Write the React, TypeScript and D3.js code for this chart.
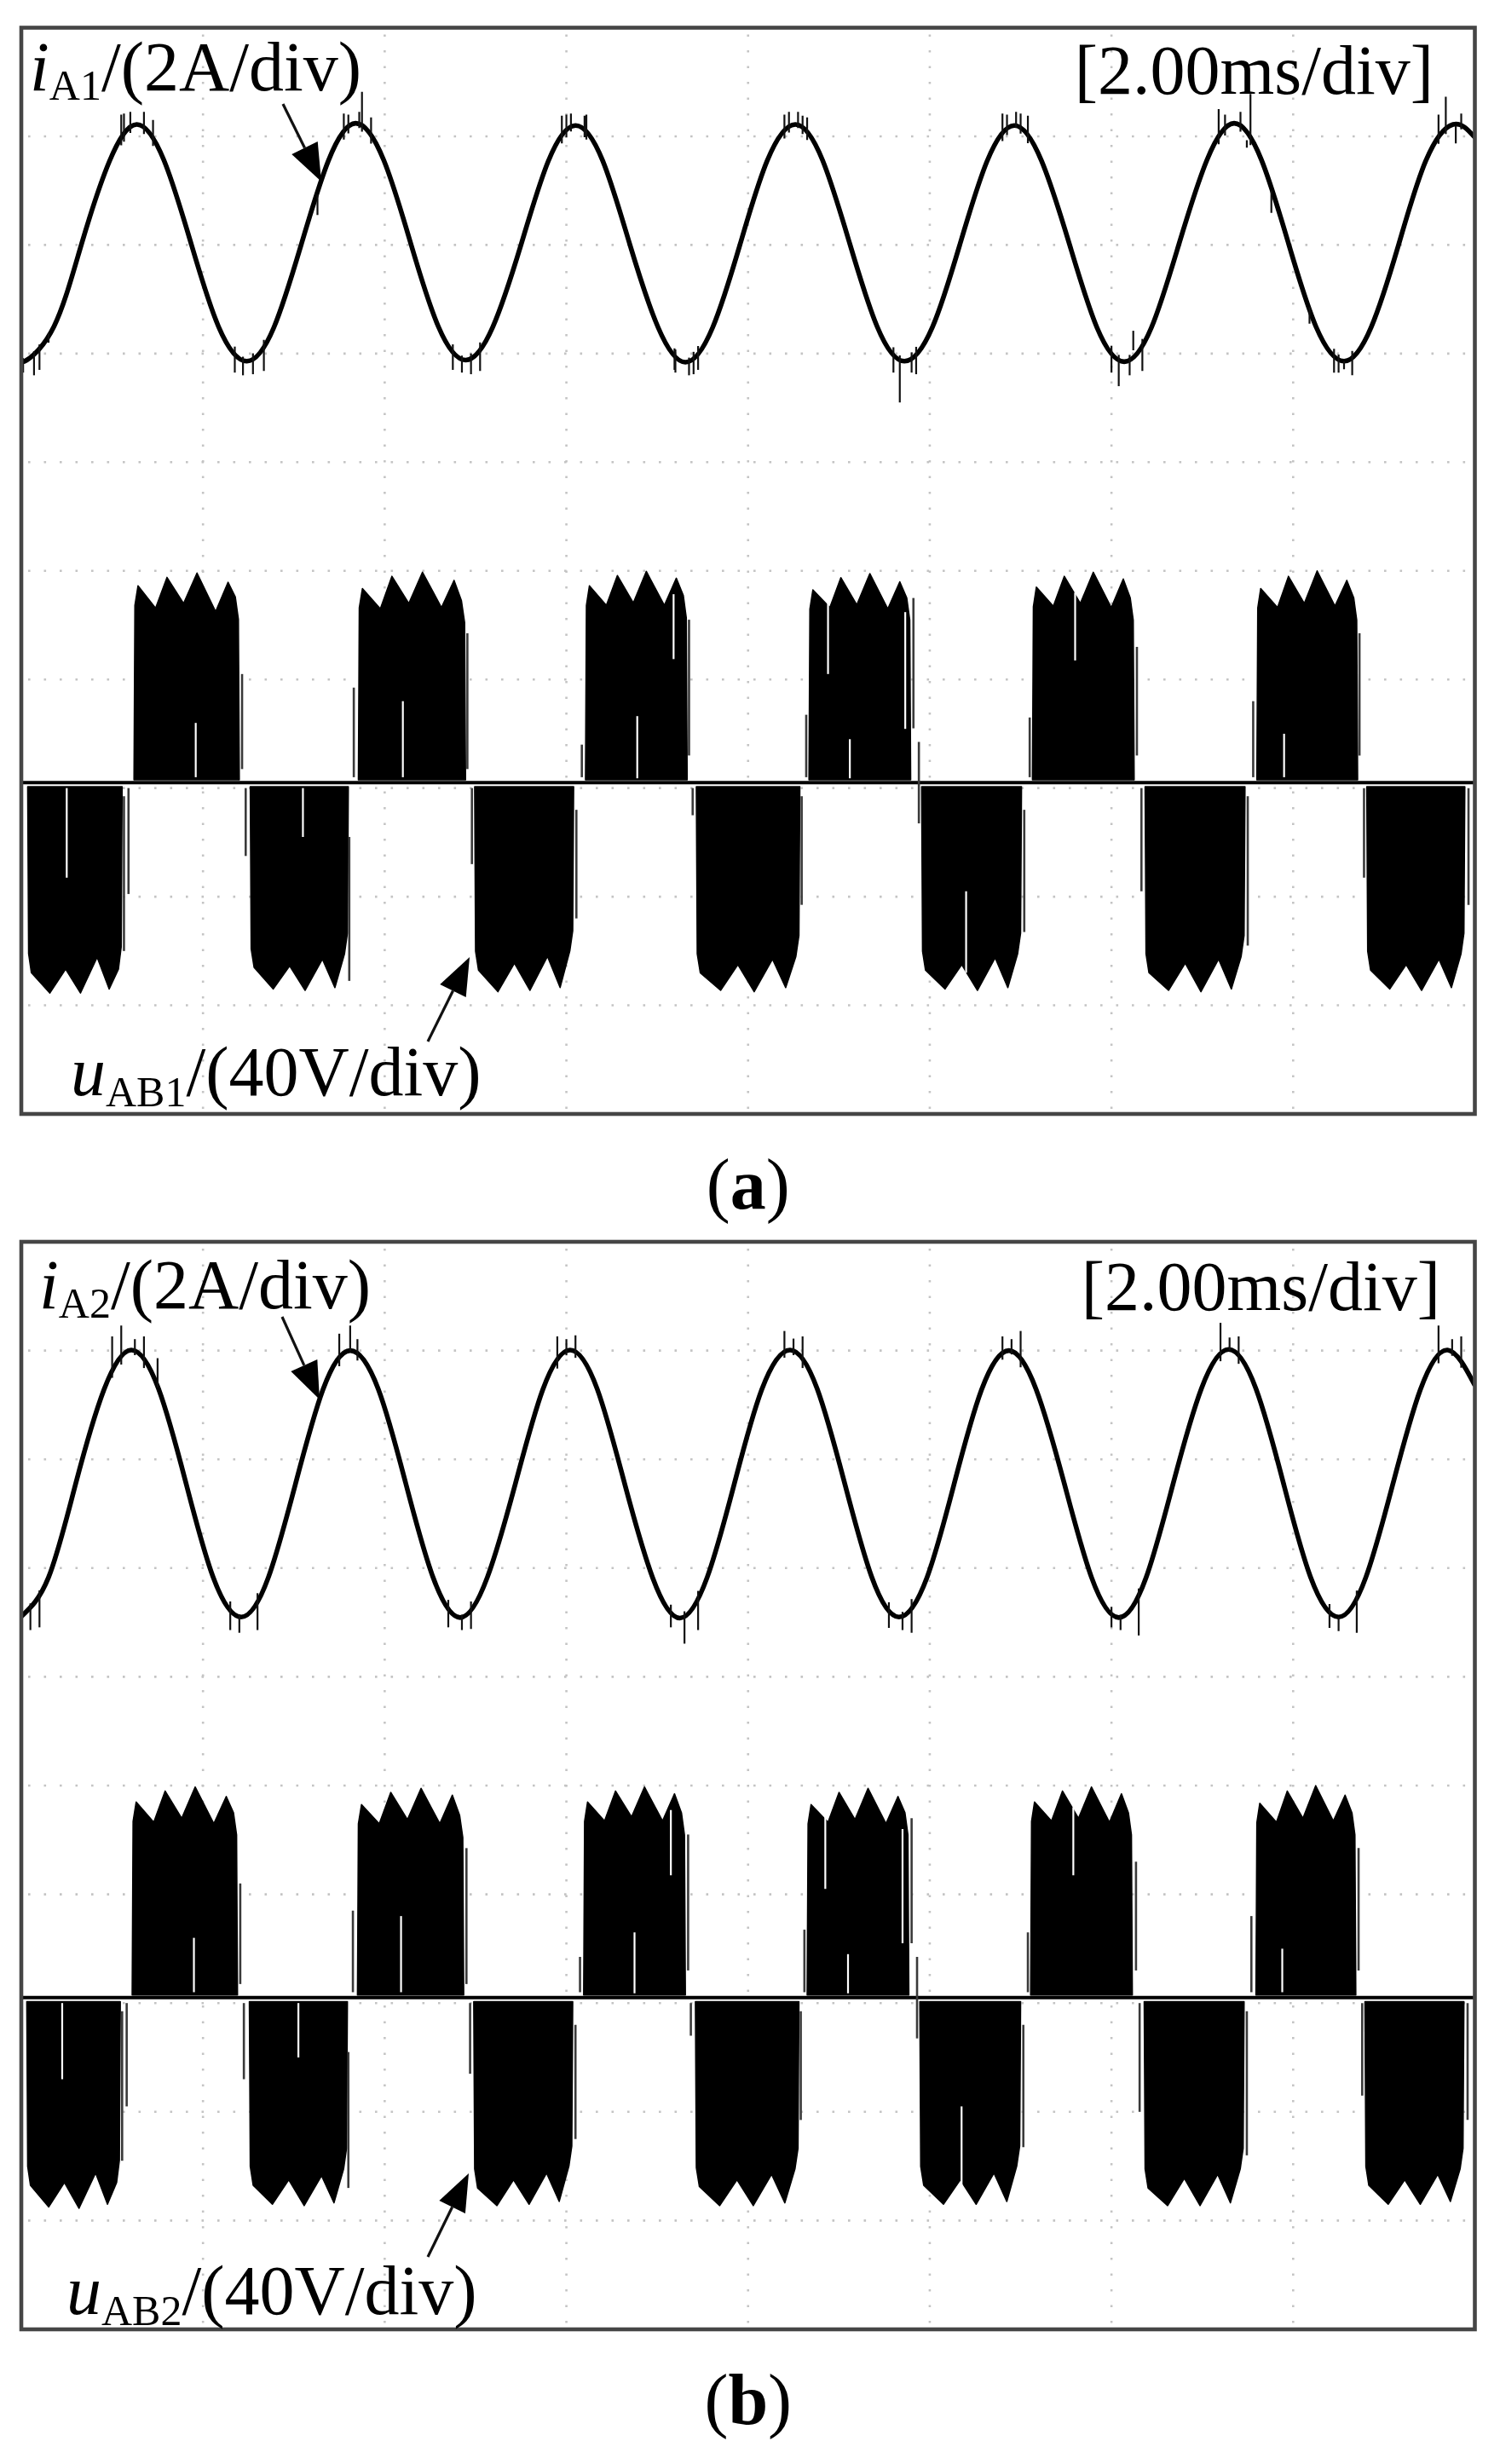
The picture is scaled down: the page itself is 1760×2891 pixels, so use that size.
import React from "react";
import * as d3 from "d3";

// ---------------- DATA ----------------
// time in ms (2.00 ms/div, 8 div), current in A (2 A/div), voltage in V (40 V/div)
const timeDivMs = 2;
const xDivs = 8;
const yDivs = 10;
const ampPerDiv = 2;
const voltPerDiv = 40;

// ---- panel (a) : i_A1 samples ----
const tA1 = [0, 0.06, 0.36, 0.66, 0.97, 1.27, 1.57, 1.87, 2.17, 2.48, 2.78, 3.08, 3.38, 3.68, 3.99, 4.29, 4.59, 4.89, 5.19, 5.5, 5.8, 6.1, 6.4, 6.7, 7.01, 7.31, 7.61, 7.91, 8.21, 8.52, 8.82, 9.12, 9.42, 9.72, 10.03, 10.33, 10.63, 10.93, 11.23, 11.54, 11.84, 12.14, 12.44, 12.74, 13.05, 13.35, 13.65, 13.95, 14.25, 14.56, 14.86, 15.16, 15.46, 15.76, 16];
const iA1 = [-2.08, -2.12, -1.5, 0.0, 1.54, 2.22, 1.56, 0.02, -1.5, -2.14, -1.52, 0.0, 1.55, 2.24, 1.56, 0.01, -1.5, -2.12, -1.51, 0.0, 1.54, 2.2, 1.55, 0.0, -1.52, -2.16, -1.52, 0.0, 1.55, 2.22, 1.56, 0.02, -1.5, -2.14, -1.51, 0.0, 1.54, 2.2, 1.55, 0.0, -1.52, -2.15, -1.52, 0.0, 1.56, 2.24, 1.57, 0.02, -1.5, -2.14, -1.51, 0.0, 1.55, 2.22, 1.98];
// noise spikes on i_A1: [time, tip value]
const spikesA1 = [
  [0.02, -2.35], [0.14, -2.4], [0.2, -2.3], [0.3, -1.8],
  [1.1, 2.4], [1.13, 2.42], [1.2, 2.45], [1.35, 2.45], [1.45, 2.3],
  [2.35, -2.35], [2.44, -2.4], [2.55, -2.38], [2.67, -2.32], [3.26, 0.55],
  [3.55, 2.42], [3.6, 2.4], [3.72, 2.45], [3.75, 2.82], [3.85, 2.35],
  [4.75, -2.3], [4.85, -2.35], [4.95, -2.38], [5.05, -2.32],
  [5.95, 2.38], [6.0, 2.4], [6.05, 2.42], [6.2, 2.38], [6.22, 2.4],
  [7.19, -2.3], [7.2, -2.35], [7.35, -2.4], [7.4, -2.38], [7.45, -2.3],
  [8.4, 2.4], [8.45, 2.45], [8.55, 2.45], [8.6, 2.38], [8.65, 2.35],
  [9.6, -2.35], [9.67, -2.9], [9.8, -2.35], [9.85, -2.38],
  [10.8, 2.42], [10.85, 2.4], [10.95, 2.45], [11.0, 2.42], [11.08, 2.38],
  [12.0, -2.35], [12.08, -2.6], [12.2, -2.4], [12.24, -1.58], [12.34, -2.32],
  [13.18, 2.5], [13.25, 2.4], [13.42, 2.45], [13.49, 1.79], [13.53, 2.78], [13.76, 0.59],
  [14.18, -1.45], [14.45, -2.35], [14.5, -2.35], [14.56, -2.29], [14.65, -2.4],
  [15.6, 2.4], [15.68, 2.73], [15.79, 1.87], [15.85, 2.42],
];

// ---- panel (a) : u_AB1 blocks (solid part of each half cycle) ----
const vSignsA1 = [-1, 1, -1, 1, -1, 1, -1, 1, -1, 1, -1, 1, -1];
const vStartA1 = [0.08, 1.25, 2.53, 3.72, 5.0, 6.22, 7.44, 8.68, 9.92, 11.14, 12.38, 13.61, 14.82];
const vEndA1 = [1.1, 2.39, 3.59, 4.88, 6.07, 7.32, 8.56, 9.78, 11.0, 12.24, 13.46, 14.7, 15.88];
// envelope magnitudes (V) at the template instants of each block
const vEnvA1 = [
  [70, 77.5, 68.7, 77.5, 64.3, 76, 68.7],
  [72.5, 64.3, 75.6, 66.0, 77.2, 63.0, 73.8, 68.4],
  [68, 76, 67.5, 76.5, 65, 75.5, 63],
  [71.5, 64, 76, 66, 77.5, 64.5, 74.5, 67],
  [69, 77, 66.5, 76.5, 64, 75.5, 62],
  [72.5, 65.3, 76.3, 66.2, 77.8, 65.3, 75.3, 69],
  [70, 76.5, 67, 77, 65, 75.5, 64],
  [71, 64.5, 75.5, 65.5, 77, 64, 74, 68],
  [69, 76, 67, 76.5, 64.5, 75.5, 63],
  [72, 65, 76, 66, 77.5, 64.5, 75, 68],
  [70, 76.5, 66.5, 77, 65, 76, 64],
  [71.5, 64.5, 76, 66, 78, 65, 74.5, 68],
  [69, 76, 67, 76.5, 65, 75.5, 63],
];
// grey switching spikes [t, v from, v to] and white gaps inside blocks [t, v from, v to]
const vSpikesA1 = [
  [1.13, -5, -62], [1.18, -2, -41], [2.43, 5, 40], [2.47, -2, -27], [3.61, -20, -73], [3.66, 2, 35],
  [4.91, 5, 55], [4.96, -2, -30], [6.11, -10, -50], [6.17, 2, 14], [7.35, 10, 60], [7.39, -2, -12],
  [8.59, -5, -45], [8.64, 2, 25], [9.82, 20, 68], [9.88, 15, -15], [11.04, -10, -55], [11.1, 2, 24],
  [12.28, 10, 50], [12.33, -2, -40], [13.5, -5, -60], [13.56, 2, 30], [14.73, 10, 55], [14.78, -2, -35],
  [15.93, -2, -45],
];
const vGapsA1 = [[6.78, 1.6, 24.5], [7.18, 45.5, 69.4], [9.12, 1.6, 16], [8.88, 40, 75.6], [9.73, 19.8, 62.8], [1.92, 2, 22], [4.2, 2, 30], [11.6, 45, 70], [13.9, 2, 18], [0.5, -2, -35], [3.1, -2, -20], [10.4, -40, -70]];

// ---- panel (b) : i_A2 samples ----
const tA2 = [0, 0.3, 0.6, 0.91, 1.21, 1.51, 1.81, 2.11, 2.42, 2.72, 3.02, 3.32, 3.62, 3.93, 4.23, 4.53, 4.83, 5.13, 5.44, 5.74, 6.04, 6.34, 6.64, 6.95, 7.25, 7.55, 7.85, 8.15, 8.46, 8.76, 9.06, 9.36, 9.66, 9.97, 10.27, 10.57, 10.87, 11.17, 11.48, 11.78, 12.08, 12.38, 12.68, 12.99, 13.29, 13.59, 13.89, 14.19, 14.5, 14.8, 15.1, 15.4, 15.7, 16];
const iA2 = [-2.45, -1.73, 0.0, 1.72, 2.45, 1.74, 0.02, -1.72, -2.46, -1.73, 0.0, 1.72, 2.44, 1.73, 0.01, -1.72, -2.47, -1.73, 0.0, 1.72, 2.45, 1.73, 0.0, -1.74, -2.48, -1.73, 0.0, 1.72, 2.45, 1.74, 0.02, -1.72, -2.46, -1.73, 0.0, 1.72, 2.44, 1.73, 0.0, -1.73, -2.47, -1.74, 0.0, 1.74, 2.46, 1.74, 0.02, -1.72, -2.46, -1.73, 0.0, 1.72, 2.45, 1.8];
const spikesA2 = [
  [0.1, -2.7], [0.2, -2.65], [1.0, 2.7], [1.1, 2.9], [1.25, 2.65], [1.35, 2.7], [1.5, 2.3],
  [2.3, -2.7], [2.4, -2.75], [2.6, -2.7], [3.5, 2.75], [3.62, 2.9], [3.7, 2.65],
  [4.7, -2.65], [4.85, -2.7], [4.95, -2.68], [5.9, 2.7], [6.0, 2.65], [6.1, 2.72],
  [7.15, -2.65], [7.3, -2.95], [7.45, -2.7], [8.4, 2.8], [8.5, 2.66], [8.6, 2.7],
  [9.55, -2.66], [9.7, -2.7], [9.8, -2.75], [10.8, 2.7], [10.9, 2.65], [11.0, 2.8],
  [12.0, -2.65], [12.1, -2.7], [12.3, -2.8], [13.2, 2.95], [13.3, 2.68], [13.4, 2.7],
  [14.4, -2.66], [14.5, -2.72], [14.7, -2.75], [15.6, 2.9], [15.75, 2.65], [15.85, 2.7],
];

// ---- panel (b) : u_AB2 blocks ----
const vSignsA2 = [-1, 1, -1, 1, -1, 1, -1, 1, -1, 1, -1, 1, -1];
const vStartA2 = [0.07, 1.23, 2.52, 3.71, 4.99, 6.2, 7.43, 8.66, 9.9, 11.12, 12.37, 13.6, 14.8];
const vEndA2 = [1.08, 2.37, 3.58, 4.86, 6.06, 7.3, 8.55, 9.76, 10.99, 12.22, 13.45, 14.68, 15.87];
const vEnvA2 = [
  [69, 77, 68, 77.5, 64.5, 76, 68],
  [72, 64.5, 76, 66, 77.5, 64, 74, 68],
  [69, 76, 67, 76.5, 65.5, 75.5, 63],
  [71, 64, 75.5, 65.5, 77, 64, 74.5, 67],
  [70, 76.5, 67, 76, 64.5, 75, 62],
  [72, 65, 76, 66.5, 77.5, 65, 75, 68],
  [69.5, 76.5, 67, 76.5, 65, 75.5, 63],
  [71, 64.5, 75.5, 65.5, 77, 64, 74, 68],
  [69, 76, 67, 76, 64.5, 75, 62],
  [72, 65, 76, 66, 77.5, 64.5, 75, 68],
  [70, 76.5, 66.5, 76.5, 65, 75.5, 63],
  [71.5, 64.5, 76, 66, 78, 65, 74.5, 68],
  [69, 76, 67, 76, 65, 75, 63],
];
const vSpikesA2 = [
  [1.11, -5, -60], [1.16, -2, -40], [2.41, 5, 42], [2.45, -2, -30], [3.6, -20, -70], [3.65, 2, 32],
  [4.9, 5, 55], [4.94, -2, -28], [6.1, -10, -52], [6.15, 2, 15], [7.34, 10, 60], [7.37, -2, -14],
  [8.58, -5, -45], [8.62, 2, 25], [9.8, 20, 66], [9.86, 15, -15], [11.03, -10, -55], [11.08, 2, 24],
  [12.27, 10, 50], [12.31, -2, -42], [13.49, -5, -58], [13.54, 2, 30], [14.72, 10, 55], [14.76, -2, -36],
  [15.92, -2, -45],
];
const vGapsA2 = [[6.75, 1.6, 24], [7.15, 45, 69], [9.1, 1.6, 16], [8.85, 40, 75], [9.7, 20, 62], [1.9, 2, 22], [4.18, 2, 30], [11.58, 45, 70], [13.88, 2, 18], [0.45, -2, -30], [3.05, -2, -22], [10.35, -40, -70]];

// template instants (fraction of the solid block) for the envelope values
const posFrac = [0.03, 0.2, 0.31, 0.47, 0.6, 0.78, 0.9, 0.97];
const negFrac = [0.03, 0.23, 0.4, 0.56, 0.74, 0.87, 0.97];

const panels = [
  {
    id: "a",
    cur: { t: tA1, v: iA1, spikes: spikesA1, sub: "A1" },
    volt: { signs: vSignsA1, start: vStartA1, end: vEndA1, env: vEnvA1, spikes: vSpikesA1, gaps: vGapsA1, sub: "AB1" },
    curOffsetDiv: 3.0,
    voltOffsetDiv: -1.95,
  },
  {
    id: "b",
    cur: { t: tA2, v: iA2, spikes: spikesA2, sub: "A2" },
    volt: { signs: vSignsA2, start: vStartA2, end: vEndA2, env: vEnvA2, spikes: vSpikesA2, gaps: vGapsA2, sub: "AB2" },
    curOffsetDiv: 2.78,
    voltOffsetDiv: -1.95,
  },
];

// ---------------- LAYOUT ----------------
const W = 1760;
const H = 2891;
const X0 = 25;
const X1 = 1730.5;
const layout = [
  { top: 32.5, bottom: 1307, curLbl: [35, 106], timeLbl: [1682, 110], voltLbl: [83, 1285], curArrow: [332, 122, 377, 213], voltArrow: [502, 1222, 551, 1123], cap: 1418 },
  { top: 1457, bottom: 2733, curLbl: [46, 1535], timeLbl: [1690, 1537], voltLbl: [78, 2715], curArrow: [331, 1545, 375, 1642], voltArrow: [502, 2648, 550, 2550], cap: 2844 },
];

const FONT = "'Liberation Serif', 'Times New Roman', serif";
const FS = 82;
const SUBFS = 50;

function Arrow({ a }: { a: number[] }) {
  const [x1, y1, x2, y2] = a;
  const dx = x2 - x1, dy = y2 - y1;
  const L = Math.hypot(dx, dy);
  const ux = dx / L, uy = dy / L;
  const headL = 44, headW = 17;
  const bx = x2 - ux * headL, by = y2 - uy * headL;
  const px = -uy, py = ux;
  const pts = `${x2},${y2} ${bx + px * headW},${by + py * headW} ${bx - px * headW},${by - py * headW}`;
  return (
    <g>
      <line x1={x1} y1={y1} x2={bx} y2={by} stroke="#111" strokeWidth={3.2} />
      <polygon points={pts} fill="#000" />
    </g>
  );
}

function Panel({ p, L }: { p: any; L: any }) {
  const x = d3.scaleLinear().domain([0, xDivs * timeDivMs]).range([X0, X1]);
  const y = d3.scaleLinear().domain([yDivs / 2, -yDivs / 2]).range([L.top, L.bottom]);
  const yc = (i: number) => y(p.curOffsetDiv + i / ampPerDiv);
  const yv = (v: number) => y(p.voltOffsetDiv + v / voltPerDiv);
  const clipId = `clip-${p.id}`;

  const curData = p.cur.t.map((t: number, k: number) => [t, p.cur.v[k]] as [number, number]);
  const curLine = d3.line<[number, number]>().x((d) => x(d[0])).y((d) => yc(d[1])).curve(d3.curveNatural);
  const curAt = (t: number) => {
    const ts = p.cur.t;
    const k = Math.max(1, Math.min(ts.length - 1, d3.bisectLeft(ts, t)));
    const f = (t - ts[k - 1]) / (ts[k] - ts[k - 1]);
    return p.cur.v[k - 1] + f * (p.cur.v[k] - p.cur.v[k - 1]);
  };

  const vLine = d3.line<[number, number]>().x((d) => x(d[0])).y((d) => yv(d[1]));
  const blocks = p.volt.signs.map((s: number, b: number) => {
    const ts = p.volt.start[b];
    const te = p.volt.end[b];
    const w = te - ts;
    const env = p.volt.env[b];
    const fr = s > 0 ? posFrac : negFrac;
    const base = s > 0 ? 1.0 : -1.5;
    const pts: [number, number][] = [[ts - 0.01, base], [ts, s * env[0] * 0.9]];
    fr.forEach((f: number, i: number) => pts.push([ts + f * w, s * env[i]]));
    pts.push([te, s * env[env.length - 1] * 0.88]);
    pts.push([te + 0.01, base]);
    return vLine(pts) + "Z";
  });

  const gridX = d3.range(1, xDivs).map((k) => x(k * timeDivMs));
  const gridY = d3.range(-yDivs / 2 + 1, yDivs / 2).map((d) => y(d));

  return (
    <g>
      <defs>
        <clipPath id={clipId}>
          <rect x={X0} y={L.top} width={X1 - X0} height={L.bottom - L.top} />
        </clipPath>
      </defs>
      <g stroke="#c4c4c4" strokeWidth={2.6} strokeDasharray="2.6 15.9">
        {gridX.map((gx, k) => (
          <line key={"gx" + k} x1={gx} x2={gx} y1={L.top + 8} y2={L.bottom} />
        ))}
        {gridY.map((gy, k) => (
          <line key={"gy" + k} x1={X0 + 8} x2={X1} y1={gy} y2={gy} />
        ))}
      </g>
      <g clipPath={`url(#${clipId})`}>
        <line x1={X0} x2={X1} y1={yv(0)} y2={yv(0)} stroke="#000" strokeWidth={4} />
        {blocks.map((d: string, k: number) => (
          <path key={"b" + k} d={d} fill="#000" stroke="#000" strokeWidth={1.5} strokeLinejoin="round" />
        ))}
        {p.volt.spikes.map((s: number[], k: number) => (
          <line key={"vs" + k} x1={x(s[0])} x2={x(s[0])} y1={yv(s[1])} y2={yv(s[2])} stroke="#3a3a3a" strokeWidth={2.6} />
        ))}
        {p.volt.gaps.map((s: number[], k: number) => (
          <line key={"vg" + k} x1={x(s[0])} x2={x(s[0])} y1={yv(s[1])} y2={yv(s[2])} stroke="#fff" strokeWidth={2.2} />
        ))}
        <path d={curLine(curData) || ""} fill="none" stroke="#000" strokeWidth={5.6} strokeLinejoin="round" />
        {p.cur.spikes.map((s: number[], k: number) => (
          <line key={"cs" + k} x1={x(s[0])} x2={x(s[0])} y1={yc(curAt(s[0]))} y2={yc(s[1])} stroke="#111" strokeWidth={2.2} />
        ))}
      </g>
      <rect x={X0} y={L.top} width={X1 - X0} height={L.bottom - L.top} fill="none" stroke="#454545" strokeWidth={4.6} />
      <text x={L.curLbl[0]} y={L.curLbl[1]} fontFamily={FONT} fontSize={FS} fill="#000">
        <tspan fontStyle="italic">i</tspan>
        <tspan fontSize={SUBFS} dy={11}>{p.cur.sub}</tspan>
        <tspan dy={-11}>/(2A/div)</tspan>
      </text>
      <text x={L.timeLbl[0]} y={L.timeLbl[1]} fontFamily={FONT} fontSize={FS} fill="#000" textAnchor="end">
        [2.00ms/div]
      </text>
      <text x={L.voltLbl[0]} y={L.voltLbl[1]} fontFamily={FONT} fontSize={FS} fill="#000">
        <tspan fontStyle="italic">u</tspan>
        <tspan fontSize={SUBFS} dy={13}>{p.volt.sub}</tspan>
        <tspan dy={-13}>/(40V/div)</tspan>
      </text>
      <Arrow a={L.curArrow} />
      <Arrow a={L.voltArrow} />
      <text x={(X0 + X1) / 2} y={L.cap} fontFamily={FONT} fontSize={84} fill="#000" textAnchor="middle">
        (<tspan fontWeight="bold">{p.id}</tspan>)
      </text>
    </g>
  );
}

export default function App() {
  return (
    <svg width={W} height={H} viewBox={`0 0 ${W} ${H}`} style={{ display: "block", position: "absolute", left: 0, top: 0, background: "#fff" }}>
      <rect x={0} y={0} width={W} height={H} fill="#fff" />
      {panels.map((p, k) => (
        <Panel key={p.id} p={p} L={layout[k]} />
      ))}
    </svg>
  );
}
